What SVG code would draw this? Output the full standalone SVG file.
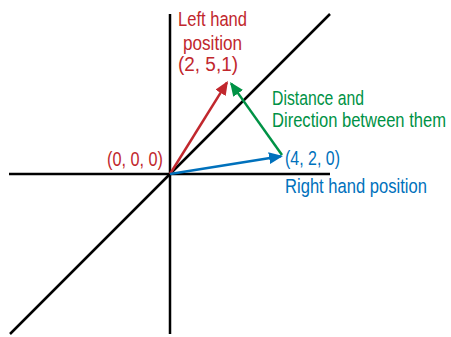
<svg xmlns="http://www.w3.org/2000/svg" width="451" height="337" viewBox="0 0 451 337">
<style>
.axis{stroke:#000;stroke-width:2.5;fill:none}
.vec{stroke-width:2.5;fill:none}
text{font-family:"Liberation Sans",Arial,sans-serif;font-size:17px}
.r{fill:#c1272d}.g{fill:#009245}.b{fill:#0071bc}
</style>
<defs>
<marker id="ar" markerUnits="userSpaceOnUse" markerWidth="16" markerHeight="14" refX="12" refY="6" orient="auto"><path d="M0,0 L14,6 L0,12 z" fill="#c1272d"/></marker>
<marker id="ag" markerUnits="userSpaceOnUse" markerWidth="16" markerHeight="14" refX="12" refY="6" orient="auto"><path d="M0,0 L14,6 L0,12 z" fill="#009245"/></marker>
<marker id="ab" markerUnits="userSpaceOnUse" markerWidth="16" markerHeight="14" refX="12" refY="6" orient="auto"><path d="M0,0 L14,6 L0,12 z" fill="#0071bc"/></marker>
</defs>
<g id="axes">
<line class="axis" x1="170" y1="14" x2="170" y2="334"/>
<line class="axis" x1="9" y1="174" x2="330" y2="174"/>
<line class="axis" x1="10" y1="334" x2="330" y2="14"/>
</g>
<g id="connectors">
<line class="vec" stroke="#c1272d" x1="170" y1="174" x2="226.9" y2="82.7" marker-end="url(#ar)"/>
<line class="vec" stroke="#009245" x1="282" y1="155" x2="231.2" y2="83.6" marker-end="url(#ag)"/>
<line class="vec" stroke="#0071bc" x1="170" y1="174" x2="281" y2="156.3" marker-end="url(#ab)"/>
</g>
<g id="left-hand" transform="scale(1,1.17)">
<text class="r" x="178" y="22.22" textLength="69" lengthAdjust="spacingAndGlyphs">Left hand</text>
<text class="r" x="183" y="42.74" textLength="59" lengthAdjust="spacingAndGlyphs">position</text>
<text class="r" x="178" y="60.68" textLength="60" lengthAdjust="spacingAndGlyphs">(2, 5,1)</text>
</g>
<g id="origin" transform="scale(1,1.17)">
<text class="r" x="107" y="141.88" textLength="56" lengthAdjust="spacingAndGlyphs">(0, 0, 0)</text>
</g>
<g id="distance" transform="scale(1,1.17)">
<text class="g" x="272" y="89.74" textLength="92" lengthAdjust="spacingAndGlyphs">Distance and</text>
<text class="g" x="272" y="108.55" textLength="174" lengthAdjust="spacingAndGlyphs">Direction between them</text>
</g>
<g id="right-hand" transform="scale(1,1.17)">
<text class="b" x="285" y="141.03" textLength="55" lengthAdjust="spacingAndGlyphs">(4, 2, 0)</text>
<text class="b" x="285" y="164.96" textLength="142" lengthAdjust="spacingAndGlyphs">Right hand position</text>
</g>
</svg>
